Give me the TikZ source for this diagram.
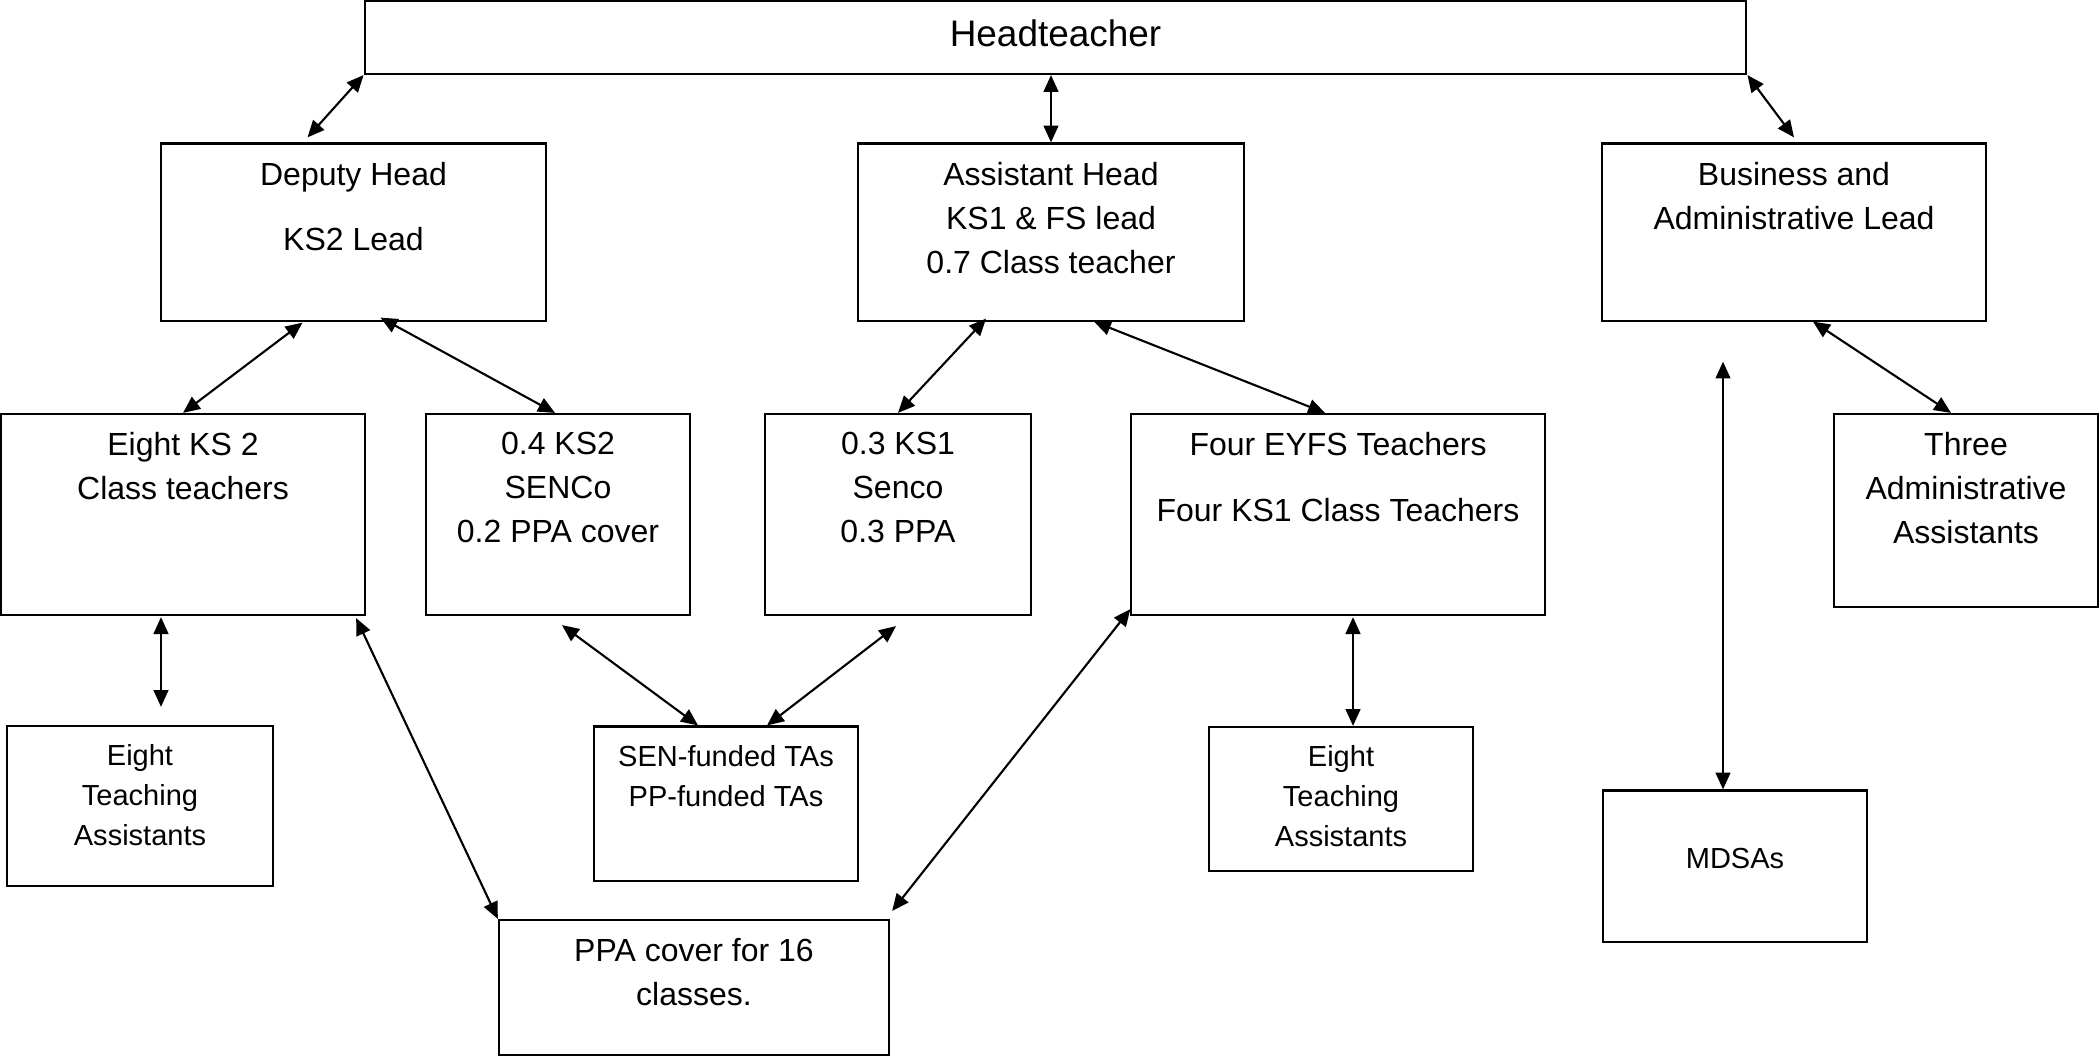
\documentclass[tikz,border=0pt]{standalone}
\usepackage{fontspec}
\setmainfont{Liberation Sans}
\usepackage{xcolor}
\usepackage{tikz}
\usetikzlibrary{calc,positioning,arrows.meta}
\definecolor{ink}{HTML}{000000}
\tikzset{
  box/.style={draw=ink, line width=0.6pt, inner sep=0pt},
  lab/.style={text=ink, inner sep=0pt, align=center, font=\fontsize{9.1}{12.5}\selectfont},
  labs/.style={text=ink, inner sep=0pt, align=center, font=\fontsize{8.25}{11.4}\selectfont},
  labh/.style={text=ink, inner sep=0pt, align=center, font=\fontsize{10.5}{13}\selectfont},
  link/.style={draw=ink, line width=0.6pt,
    {Triangle[length=4.8pt,width=4.2pt]}-{Triangle[length=4.8pt,width=4.2pt]}},
}
\begin{document}
\begin{tikzpicture}[x=0.01cm,y=-0.01cm]
  \useasboundingbox (0,0) rectangle (2100,1060);

  % boxes
  \node[box,minimum width=13.81cm,minimum height=0.73cm] (head)  at (1055.5,37.5) {};
  \node[box,minimum width=3.85cm,minimum height=1.77cm]  (dep)   at (353.5,232) {};
  \node[box,minimum width=3.85cm,minimum height=1.77cm]  (ast)   at (1051,232) {};
  \node[box,minimum width=3.84cm,minimum height=1.77cm]  (bus)   at (1794,232) {};
  \node[box,minimum width=3.64cm,minimum height=2.01cm]  (ks2)   at (183,514.5) {};
  \node[box,minimum width=2.63cm,minimum height=2.01cm]  (senco) at (558,514.5) {};
  \node[box,minimum width=2.65cm,minimum height=2.01cm]  (ks1)   at (898,514.5) {};
  \node[box,minimum width=4.13cm,minimum height=2.01cm]  (eyfs)  at (1338,514.5) {};
  \node[box,minimum width=2.64cm,minimum height=1.93cm]  (adm)   at (1966,510.5) {};
  \node[box,minimum width=2.65cm,minimum height=1.60cm]  (taL)   at (140,806) {};
  \node[box,minimum width=2.64cm,minimum height=1.54cm]  (sen)   at (726,803.5) {};
  \node[box,minimum width=2.64cm,minimum height=1.44cm]  (taR)   at (1341,799) {};
  \node[box,minimum width=2.64cm,minimum height=1.51cm]  (mdsa)  at (1735,866) {};
  \node[box,minimum width=3.90cm,minimum height=1.35cm]  (ppa)   at (694,987.5) {};

  % texts
  \node[labh,below=0.19cm of head.north]  (headT)  {Headteacher};
  \node[lab,below=0.19cm of dep.north]    (depT)   {Deputy Head\\[6pt]KS2 Lead};
  \node[lab,below=0.19cm of ast.north]    (astT)   {Assistant Head\\KS1 \& FS lead\\0.7 Class teacher};
  \node[lab,below=0.19cm of bus.north]    (busT)   {Business and\\Administrative Lead};
  \node[lab,below=0.19cm of ks2.north]    (ks2T)   {Eight KS 2\\Class teachers};
  \node[lab,below=0.19cm of senco.north]  (sencoT) {0.4 KS2\\SENCo\\0.2 PPA cover};
  \node[lab,below=0.19cm of ks1.north]    (ks1T)   {0.3 KS1\\Senco\\0.3 PPA};
  \node[lab,below=0.19cm of eyfs.north]   (eyfsT)  {Four EYFS Teachers\\[6.2pt]Four KS1 Class Teachers};
  \node[lab,below=0.19cm of adm.north]    (admT)   {Three\\Administrative\\Assistants};
  \node[labs,below=0.19cm of taL.north]   (taLT)   {Eight\\Teaching\\Assistants};
  \node[labs,below=0.19cm of sen.north]   (senT)   {SEN-funded TAs\\PP-funded TAs};
  \node[labs,below=0.19cm of taR.north]   (taRT)   {Eight\\Teaching\\Assistants};
  \node[labs,below=0.58cm of mdsa.north]  (mdsaT)  {MDSAs};
  \node[lab,below=0.19cm of ppa.north]    (ppaT)   {PPA cover for 16\\classes.};

  % links
  \coordinate (mdsaTop) at ($(bus.south)+(-71,40)$);
  \draw[link] (head.south west) -- ($(dep.north)+(-46,-5)$);
  \draw[link] (ast.north |- head.south) -- (ast.north);
  \draw[link] (head.south east) -- ($(bus.north)+(0,-5)$);
  \draw[link] ($(dep.south)+(-51,1)$) -- (ks2.north);
  \draw[link] ($(dep.south)+(27,-4)$) -- ($(senco.north)+(-3,0)$);
  \draw[link] ($(ast.south)+(-65,-3)$) -- (ks1.north);
  \draw[link] ($(ast.south)+(43,0)$) -- ($(eyfs.north)+(-13,0)$);
  \draw[link] ($(bus.south)+(19,0)$) -- ($(adm.north)+(-15,0)$);
  \draw[link] (mdsaTop) -- (mdsaTop |- mdsa.north);
  \draw[link] ($(ks2.south)+(-22,1)$) -- ($(taL.north)+(21,-18)$);
  \draw[link] ($(ks2.south east)+(-10,2)$) -- (ppa.north west);
  \draw[link] ($(senco.south)+(4,9)$) -- ($(sen.north)+(-28,0)$);
  \draw[link] ($(ks1.south)+(-2,10)$) -- ($(sen.north)+(41,0)$);
  \draw[link] ($(eyfs.south west)+(0,-7)$) -- ($(ppa.north east)+(2,-8)$);
  \draw[link] ($(eyfs.south)+(15,1)$) -- ($(taR.north)+(12,0)$);
\end{tikzpicture}
\end{document}
